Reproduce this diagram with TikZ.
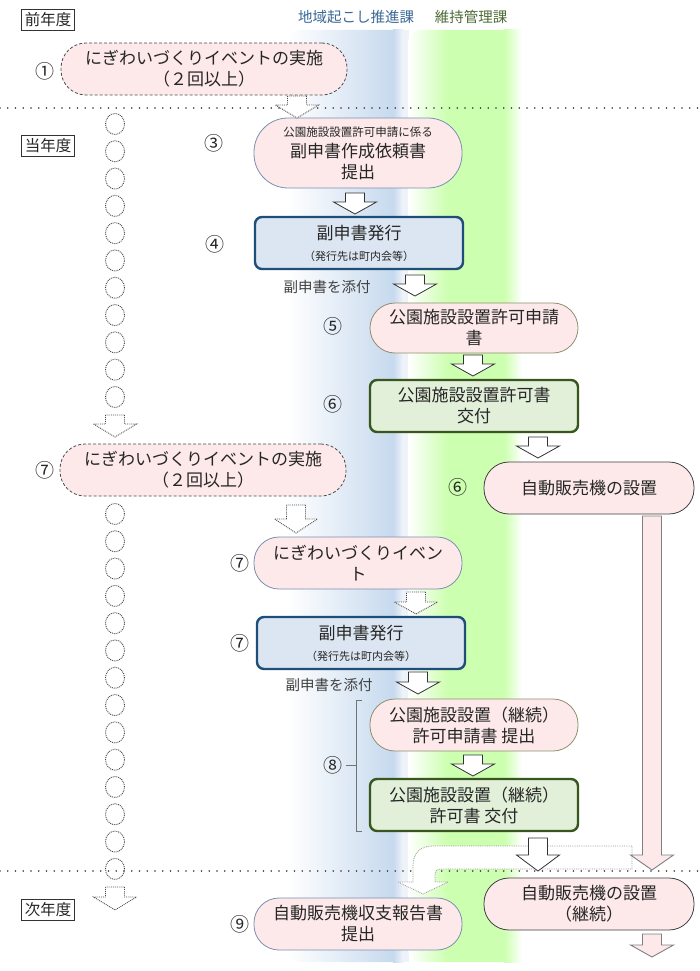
\documentclass[tikz,border=0pt]{standalone}
\usepackage{fontspec}
\newfontfamily\jpfont{Noto Sans CJK JP}
\usetikzlibrary{shapes.geometric,positioning}

\definecolor{pinkfill}{HTML}{FDE9E9}
\definecolor{bluefill}{HTML}{DCE6F2}
\definecolor{blueline}{HTML}{1F4E79}
\definecolor{greenfill}{HTML}{E2EFD9}
\definecolor{greenline}{HTML}{38571F}
\definecolor{pillblue}{HTML}{7A90B0}
\definecolor{pillolive}{HTML}{8F8F6F}
\definecolor{bandblue}{HTML}{C6D9EE}
\definecolor{bandpale}{HTML}{EEF3F9}
\definecolor{bandgreen}{HTML}{CCFFAF}
\definecolor{deptblue}{HTML}{3A6795}
\definecolor{deptgreen}{HTML}{4E6B35}

\newcommand{\subline}[1]{{\fontsize{11}{14}\selectfont #1}}

\tikzset{
  every node/.style={font=\jpfont\fontsize{17}{21}\selectfont, text=black!85},
  pill/.style={draw, fill=pinkfill, line width=0.8pt, rounded corners=25pt,
    minimum width=208pt, minimum height=52pt, align=center, inner sep=1pt},
  eventpill/.style={pill, draw=black!70, densely dashed, minimum width=286pt},
  issuebox/.style={draw=blueline, fill=bluefill, line width=2.4pt, rounded corners=7pt,
    minimum width=208pt, minimum height=52pt, align=center, inner sep=1pt},
  permitbox/.style={issuebox, draw=greenline, fill=greenfill},
  yearbox/.style={draw=black!80, line width=0.7pt, inner sep=3pt, font=\jpfont\fontsize{15.5}{17}\selectfont},
  stepno/.style={inner sep=0pt, font=\jpfont\fontsize{19}{21}\selectfont},
  dotcirc/.style={ellipse, draw=black!75, densely dotted, line width=0.9pt,
    minimum width=19pt, minimum height=21pt, inner sep=0pt},
  yearline/.style={line width=1.7pt, black!80, dash pattern=on 0pt off 7.75pt, line cap=round},
  blkarrow/.style={fill=white, draw=black!80, line width=0.8pt},
  dotarrow/.style={fill=white, draw=black!70, densely dotted, line width=0.9pt},
  pinkarrow/.style={fill=pinkfill, draw=black!50, line width=0.9pt},
  bentarrow/.style={fill=white, draw=black!40, densely dotted, line width=0.8pt},
  pics/downarrow/.style args={#1/#2}{code={
    \draw[pic actions] (-9.5,0) -- (9.5,0) -- (9.5,#1-#2) -- (21.5,#1-#2)
      -- (0,#1) -- (-21.5,#1-#2) -- (-9.5,#1-#2) -- cycle;
  }},
}

\begin{document}
\begin{tikzpicture}[x=1pt,y=-1pt]
\useasboundingbox (0,0) rectangle (700,971);

% department bands
\shade[left color=white, right color=bandblue] (394,30) [rounded corners=12pt] -- (288,30) -- (288,962) [sharp corners] -- (394,962) -- cycle;
\shade[left color=bandblue, right color=bandpale] (393,30) rectangle (403,962);
\fill[bandpale] (402,30) rectangle (409,962);
\shade[left color=white, right color=bandgreen] (448,30) [rounded corners=12pt] -- (408,30) -- (408,962) [sharp corners] -- (448,962) -- cycle;
\fill[bandgreen] (447,30) rectangle (505,962);
\shade[left color=bandgreen, right color=white] (504,30) rectangle (522,962);

\node[text=deptblue, font=\jpfont\fontsize{14.5}{16}\selectfont] (dept1) at (356,17) {地域起こし推進課};
\node[text=deptgreen, font=\jpfont\fontsize{14.5}{16}\selectfont] (dept2) at (471,17) {維持管理課};

% year separators
\draw[yearline] (0,108) -- (700,108);
\draw[yearline] (0,871) -- (700,871);

\node[yearbox] (y1) at (48,20) {前年度};
\node[yearbox] (y2) at (48,146) {当年度};
\node[yearbox] (y3) at (48,910) {次年度};

% repeated years
\foreach \i in {0,...,10}
  \node[dotcirc] (ca\i) at (115,{124+27.3*\i}) {};
\foreach \i in {0,...,13}
  \node[dotcirc] (cb\i) at (115,{514+27.3*\i}) {};
\pic[dotarrow] (da1) at (115,415) {downarrow=22/13};
\pic[dotarrow] (da2) at (115,887) {downarrow=23/13};

% flow
\node[eventpill] (ev1) at (204,69) {にぎわいづくりイベントの実施\\（２回以上）};
\node[pill, draw=pillblue, minimum height=70pt, rounded corners=34pt] (n3) at (358,153)
  {{\fontsize{11.5}{14}\selectfont 公園施設設置許可申請に係る}\\副申書作成依頼書\\提出};
\node[issuebox] (n4) at (359,243) {副申書発行\\\subline{（発行先は町内会等）}};
\node[pill, draw=pillolive, minimum height=50pt] (n5) at (474,328) {公園施設設置許可申請\\書};
\node[permitbox] (n6) at (474,406) {公園施設設置許可書\\交付};
\node[pill, draw=black!75, minimum width=210pt] (n6b) at (589,488) {自動販売機の設置};
\node[eventpill] (ev7) at (203,470) {にぎわいづくりイベントの実施\\（２回以上）};
\node[pill, draw=pillblue] (n7) at (358,563) {にぎわいづくりイベン\\ト};
\node[issuebox] (n7b) at (361,643) {副申書発行\\\subline{（発行先は町内会等）}};
\node[pill, draw=pillolive] (n8a) at (474,725) {公園施設設置（継続）\\許可申請書 提出};
\node[permitbox] (n8b) at (474,805) {公園施設設置（継続）\\許可書 交付};
\node[pill, draw=pillblue] (n9) at (358,924) {自動販売機収支報告書\\提出};
\node[pill, draw=black!75, minimum width=210pt] (n10) at (589,904) {自動販売機の設置\\（継続）};

\node[text=black!75, font=\jpfont\fontsize{14.5}{16}\selectfont] (att1) at (327,287) {副申書を添付};
\node[text=black!75, font=\jpfont\fontsize{14.5}{16}\selectfont] (att2) at (329,685) {副申書を添付};

% step numbers
\node[stepno] (s1) at (45,71) {①};
\node[stepno] (s3) at (214,143) {③};
\node[stepno] (s4) at (215,244) {④};
\node[stepno] (s5) at (333,326) {⑤};
\node[stepno] (s6) at (333,404) {⑥};
\node[stepno] (s6b) at (458,487) {⑥};
\node[stepno] (s7) at (45,470) {⑦};
\node[stepno] (s7b) at (240,563) {⑦};
\node[stepno] (s7c) at (240,643) {⑦};
\node[stepno] (s8) at (333,765) {⑧};
\node[stepno] (s9) at (240,924) {⑨};

% bracket for 8
\draw[black!55, line width=0.8pt] (362,700) -- (356,700) -- (356,831) -- (362,831);
\draw[black!55, line width=0.8pt] (356,765) -- (346,765);

% arrows
\draw[bentarrow] (632,846) -- (433,846) .. controls (420,846) and (413,853) .. (413,866)
  -- (413,882) -- (398,882) -- (423,894) -- (448,882) -- (435,882) -- (435,875)
  .. controls (435,871) and (437,869) .. (441,869) -- (632,869) -- cycle;
\pic[dotarrow] (a13) at (297,96) {downarrow=22/13};
\pic[blkarrow] (a34) at (355,193) {downarrow=21/12};
\pic[blkarrow] (a45) at (415,275) {downarrow=21/12};
\pic[blkarrow] (a56) at (473,355) {downarrow=21/12};
\pic[blkarrow] (a66) at (538,437) {downarrow=21/12};
\pic[dotarrow] (a77) at (296,505) {downarrow=28/14};
\pic[dotarrow] (a7b) at (416,592) {downarrow=22/12};
\pic[blkarrow] (a78) at (418,672) {downarrow=22/12};
\pic[blkarrow] (a88) at (473,755) {downarrow=21/12};
\pic[blkarrow] (a810) at (538,838) {downarrow=33/16};
\pic[pinkarrow] (along) at (652,516) {downarrow=354/15};
\pic[pinkarrow] (anext) at (652,934) {downarrow=23/12};
\end{tikzpicture}
\end{document}
